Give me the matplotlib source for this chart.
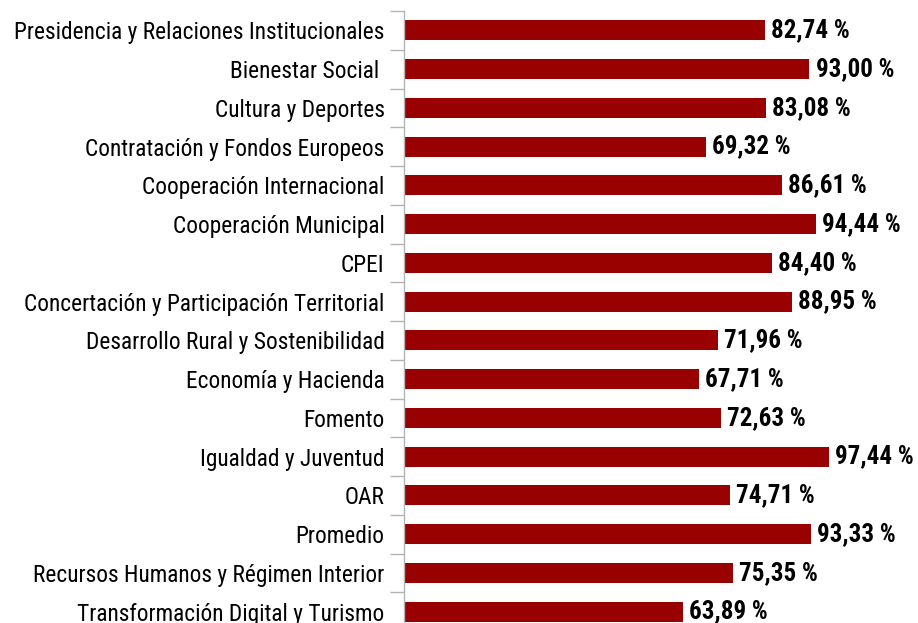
import matplotlib
matplotlib.use("Agg")
import matplotlib.pyplot as plt
from matplotlib import font_manager
import numpy as np

categories = [
    "Presidencia y Relaciones Institucionales",
    "Bienestar Social ",
    "Cultura y Deportes",
    "Contratación y Fondos Europeos",
    "Cooperación Internacional",
    "Cooperación Municipal",
    "CPEI",
    "Concertación y Participación Territorial",
    "Desarrollo Rural y Sostenibilidad",
    "Economía y Hacienda",
    "Fomento",
    "Igualdad y Juventud",
    "OAR",
    "Promedio",
    "Recursos Humanos y Régimen Interior",
    "Transformación Digital y Turismo",
]
values = [82.74, 93.00, 83.08, 69.32, 86.61, 94.44, 84.40, 88.95,
          71.96, 67.71, 72.63, 97.44, 74.71, 93.33, 75.35, 63.89]

names = {f.name for f in font_manager.fontManager.ttflist}
fam = next((n for n in ["Liberation Sans Narrow", "Roboto Condensed", "Archivo Narrow"]
            if n in names), "Liberation Sans")
plt.rcParams['font.family'] = [fam, 'DejaVu Sans']

W, H = 918, 623
fig = plt.figure(figsize=(W / 100, H / 100), dpi=100)
left_px, top_px = 404, 11
pitch = 38.75
n = len(categories)
axw = 436
axh = pitch * n
ax = fig.add_axes([left_px / W, (H - top_px - axh) / H, axw / W, axh / H])

y = np.arange(n)
ax.barh(y, values, height=0.52, color="#990000", edgecolor="none")
ax.set_xlim(0, 100)
ax.set_ylim(n - 0.5, -0.5)

for yi, v in zip(y, values):
    ax.text(v + 1.4, yi, f"{v:.2f} %".replace(".", ","), va="center", ha="left",
            fontsize=18, fontweight="bold", color="#000000")

ax.set_yticks(y)
ax.set_yticklabels(categories, fontsize=16.8, color="#000000")
ax.tick_params(axis="y", which="major", length=0, pad=14)
ax.set_yticks(np.arange(-0.5, n, 1), minor=True)
ax.tick_params(axis="y", which="minor", length=10, color="#b3b3b3", width=1)
ax.set_xticks([])
for s in ["top", "right", "bottom"]:
    ax.spines[s].set_visible(False)
ax.spines["left"].set_color("#b3b3b3")
ax.spines["left"].set_linewidth(1)
ax.patch.set_alpha(0)

fig.savefig("out.png", dpi=100)
